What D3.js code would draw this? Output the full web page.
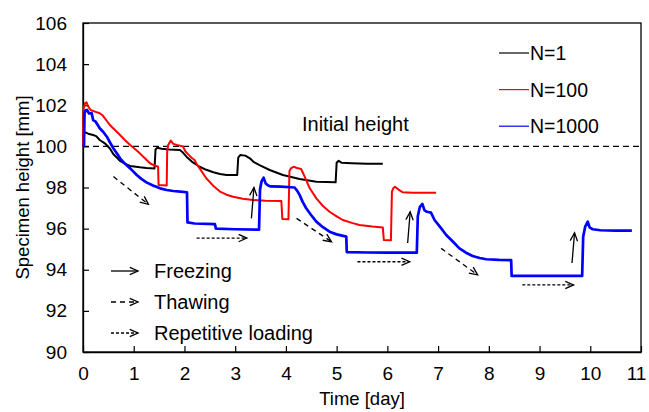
<!DOCTYPE html>
<html><head><meta charset="utf-8">
<script src="https://cdn.jsdelivr.net/npm/d3@7/dist/d3.min.js"></script>
<style>
html,body{margin:0;padding:0;background:#fff;}
svg{display:block;font-family:"Liberation Sans",Arial,sans-serif;}
</style></head>
<body><svg id="c" width="649" height="412"></svg>
<script>
// ---- data ----
const xTicks = [0,1,2,3,4,5,6,7,8,9,10,11];
const yTicks = [90,92,94,96,98,100,102,104,106];
const seriesNames = ["N=1","N=100","N=1000"];
const seriesColors = ["#000000","#ff0000","#0000ff"];
const initialHeight = 100;

const blackT = [0,0.02,0.05,0.12,0.2,0.26,0.33,0.43,0.53,0.6,0.67,0.73,0.83,0.93,1.12,1.25,1.41,1.43,1.46,1.55,1.7,1.91,1.97,2.04,2.15,2.3,2.43,2.57,2.7,2.83,3.04,3.06,3.1,3.2,3.29,3.36,3.48,3.68,3.94,4.27,4.6,4.98,5.0,5.04,5.1,5.3,5.6,5.91];
const blackV = [100.0,100.65,100.68,100.6,100.55,100.5,100.31,100.15,99.9,99.62,99.45,99.29,99.15,99.05,98.98,98.95,98.93,99.85,99.93,99.88,99.85,99.82,99.7,99.5,99.25,99.01,98.86,98.74,98.66,98.61,98.61,99.45,99.58,99.55,99.42,99.25,99.09,98.85,98.61,98.41,98.28,98.25,99.2,99.3,99.2,99.18,99.16,99.15];

const redT = [0,0.01,0.04,0.07,0.1,0.15,0.25,0.33,0.39,0.45,0.53,0.63,0.73,0.83,0.93,1.02,1.12,1.22,1.32,1.4,1.48,1.49,1.65,1.66,1.68,1.73,1.78,1.85,1.97,2.02,2.08,2.14,2.2,2.25,2.3,2.43,2.56,2.7,2.83,2.96,3.15,3.35,3.6,3.91,3.93,4.05,4.07,4.1,4.15,4.22,4.3,4.37,4.47,4.6,4.73,4.86,5.0,5.12,5.3,5.45,5.7,5.91,5.93,6.07,6.09,6.12,6.15,6.22,6.3,6.5,6.96];
const redV = [100.0,101.8,102.1,102.14,101.95,101.77,101.68,101.61,101.5,101.3,101.04,100.8,100.55,100.3,100.07,99.88,99.66,99.42,99.18,99.08,99.01,98.12,98.1,99.8,100.07,100.28,100.12,100.07,100.0,99.75,99.6,99.45,99.34,99.1,98.93,98.45,98.1,97.8,97.65,97.55,97.45,97.39,97.36,97.34,96.47,96.45,98.8,98.93,99.01,98.95,98.9,98.53,97.96,97.47,97.1,96.82,96.6,96.42,96.28,96.18,96.1,96.05,95.45,95.43,97.8,97.98,98.04,97.9,97.77,97.75,97.75];

const blueT = [0,0.02,0.03,0.05,0.08,0.12,0.17,0.2,0.25,0.33,0.4,0.47,0.53,0.6,0.67,0.73,0.83,0.93,1.06,1.15,1.25,1.38,1.52,1.65,1.78,1.92,2.05,2.06,2.2,2.6,2.62,3.0,3.47,3.49,3.52,3.56,3.6,3.65,3.7,3.9,4.17,4.22,4.27,4.33,4.4,4.5,4.6,4.73,4.86,5.0,5.19,5.2,5.6,6.0,6.58,6.6,6.64,6.69,6.73,6.78,6.86,6.93,7.05,7.16,7.3,7.42,7.55,7.68,7.82,7.95,8.2,8.44,8.45,9.0,9.84,9.86,9.9,9.95,9.99,10.05,10.2,10.5,10.82];
const blueV = [100.0,100.05,101.6,101.75,101.77,101.6,101.62,101.28,101.2,100.88,100.7,100.47,100.2,99.9,99.65,99.42,99.15,98.93,98.61,98.42,98.25,98.1,97.96,97.88,97.83,97.8,97.77,96.3,96.25,96.22,96.0,95.97,95.95,97.9,98.3,98.48,98.2,98.1,98.05,98.04,98.0,97.85,97.64,97.3,96.99,96.65,96.34,96.07,95.85,95.72,95.61,94.86,94.84,94.83,94.83,96.6,97.05,97.2,96.9,96.82,96.78,96.42,96.05,95.69,95.35,95.04,94.83,94.67,94.57,94.51,94.48,94.47,93.7,93.7,93.7,95.6,96.1,96.34,96.05,95.97,95.92,95.9,95.9];

// annotation arrows: [t0, v0, t1, v1]
const freezeArrows = [[3.32,96.5,3.37,98.0],[6.40,95.30,6.45,96.82],[9.64,94.33,9.69,95.80]];
const thawArrows = [[0.60,98.53,1.29,97.18],[4.21,96.50,4.90,95.36],[7.06,95.04,7.78,93.75]];
const loadArrows = [[2.24,95.54,3.23,95.54],[5.41,94.39,6.44,94.39],[8.66,93.26,9.67,93.26]];
const arrowLegend = ["Freezing","Thawing","Repetitive loading"];

// ---- layout ----
const svg = d3.select("#c");
const L = 83, R = 641, T = 23, B = 352;
const x = d3.scaleLinear().domain([0,11]).range([L,R]);
const y = d3.scaleLinear().domain([90,106]).range([B,T]);
const FS = 19;

// frame
svg.append("rect").attr("x",L).attr("y",T).attr("width",R-L).attr("height",B-T)
  .attr("fill","none").attr("stroke","#000").attr("stroke-width",1.3);

// axes with inward ticks
const xAxis = svg.append("g").attr("transform",`translate(0,${B})`)
  .call(d3.axisBottom(x).tickValues(xTicks).tickSizeInner(-6).tickSizeOuter(0).tickPadding(15).tickFormat(d3.format("d")));
const yAxis = svg.append("g").attr("transform",`translate(${L},0)`)
  .call(d3.axisLeft(y).tickValues(yTicks).tickSizeInner(-6).tickSizeOuter(0).tickPadding(16).tickFormat(d3.format("d")));
[xAxis,yAxis].forEach(a=>{
  a.select(".domain").attr("stroke","#000").attr("stroke-width",1.3);
  a.selectAll(".tick line").attr("stroke","#000").attr("stroke-width",1.2);
  a.selectAll(".tick text").attr("font-size",FS).attr("fill","#000").attr("font-family","Liberation Sans, Arial, sans-serif");
});
xAxis.selectAll(".tick text").filter(d=>d===11).attr("dx",-5);

// axis titles
svg.append("text").attr("x",(L+R)/2).attr("y",405).attr("text-anchor","middle")
  .attr("font-size",18.5).text("Time [day]");
svg.append("text").attr("transform",`translate(29,${(T+B)/2}) rotate(-90)`).attr("text-anchor","middle")
  .attr("font-size",18.5).text("Specimen height [mm]");

// initial height line
svg.append("line").attr("x1",x(0)).attr("x2",x(11)).attr("y1",y(initialHeight)).attr("y2",y(initialHeight))
  .attr("stroke","#000").attr("stroke-width",1.2).attr("stroke-dasharray","6,4");
svg.append("text").attr("x",302).attr("y",y(initialHeight)-15).attr("font-size",20).text("Initial height");

// series
const line = d3.line().x(d=>x(d[0])).y(d=>y(d[1]));
const series = [
  {name:seriesNames[0], color:seriesColors[0], t:blackT, v:blackV, w:2},
  {name:seriesNames[1], color:seriesColors[1], t:redT, v:redV, w:2},
  {name:seriesNames[2], color:seriesColors[2], t:blueT, v:blueV, w:2.7}
];
series.forEach(s=>{
  svg.append("path").datum(s.t.map((t,i)=>[t,s.v[i]])).attr("d",line)
    .attr("fill","none").attr("stroke",s.color).attr("stroke-width",s.w).attr("stroke-linejoin","round");
});

// series legend
series.forEach((s,i)=>{
  const ly = 53 + i*36.6;
  svg.append("line").attr("x1",499).attr("x2",529).attr("y1",ly).attr("y2",ly).attr("stroke",s.color).attr("stroke-width",1.2);
  svg.append("text").attr("x",530).attr("y",ly+7).attr("font-size",19.5).text(s.name);
});

// arrow helper
function arrow(x0,y0,x1,y1,dash){
  const g = svg.append("g").attr("stroke","#000").attr("stroke-width",1.3).attr("fill","none");
  g.append("line").attr("x1",x0).attr("y1",y0).attr("x2",x1).attr("y2",y1).attr("stroke-dasharray",dash||null);
  const a = Math.atan2(y1-y0,x1-x0), len = 9, sp = 0.42;
  g.append("path").attr("d",
    `M${x1-len*Math.cos(a-sp)},${y1-len*Math.sin(a-sp)}L${x1},${y1}L${x1-len*Math.cos(a+sp)},${y1-len*Math.sin(a+sp)}`);
}
freezeArrows.forEach(d=>arrow(x(d[0]),y(d[1]),x(d[2]),y(d[3]),null));
thawArrows.forEach(d=>arrow(x(d[0]),y(d[1]),x(d[2]),y(d[3]),"5,4"));
loadArrows.forEach(d=>arrow(x(d[0]),y(d[1]),x(d[2]),y(d[3]),"3,2"));

// arrow legend
const dashes = [null,"5,4","3,2"];
arrowLegend.forEach((lab,i)=>{
  const ly = 271 + i*31;
  arrow(111,ly,138,ly,dashes[i]);
  svg.append("text").attr("x",154).attr("y",ly+7).attr("font-size",20).text(lab);
});
</script></body></html>
